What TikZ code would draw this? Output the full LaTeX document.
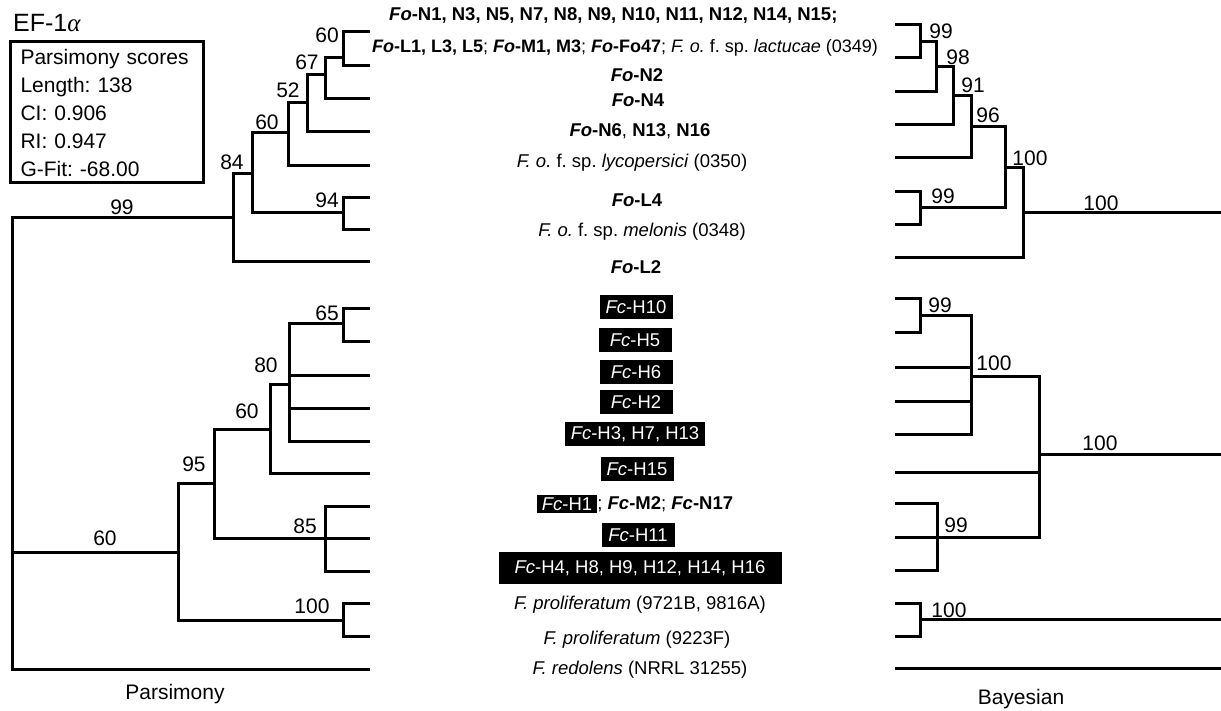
\documentclass[tikz,border=0pt]{standalone}
\usepackage{fontspec}
\setmainfont{Liberation Sans}
\newfontfamily\alphafont{Liberation Serif}
\usetikzlibrary{positioning}
\frenchspacing
\tikzset{
  branch/.style={line width=3pt, line cap=rect},
  boot/.style={font=\fontsize{21}{21}\selectfont, inner sep=0pt},
  taxon/.style={font=\fontsize{18.5}{18.5}\selectfont, inner sep=0pt},
  hapbox/.style={fill=black, text=white, font=\fontsize{18.5}{18.5}\selectfont,
    inner sep=0pt, minimum width=73pt, minimum height=24pt},
}
\newcommand{\Fo}{\textit{Fo}}
\newcommand{\Fc}{\textit{Fc}}
\begin{document}
\begin{tikzpicture}[x=1pt,y=-1pt]
\useasboundingbox (0,0) rectangle (1221,711);

% parsimony tree
\foreach \n/\y in {1/32,2/66,3/99,4/132,5/166,6/198,7/230,8/262}
  \coordinate (pt\n) at (368,\y);
\foreach \n/\y in {1/309,2/342,3/375,4/408,5/441,6/473,7/506,8/538,9/571,10/603,11/636,12/669}
  \coordinate (pb\n) at (368,\y);
\coordinate (pR) at (12,218);
\coordinate (p99) at (233,218);
\coordinate (p84) at (252,174);
\coordinate (p60b) at (288,133);
\coordinate (p52) at (307,103);
\coordinate (p67) at (325,75);
\coordinate (p60a) at (343,58);
\coordinate (p94) at (343,213);
\coordinate (p60d) at (178,552);
\coordinate (p95) at (214,483);
\coordinate (p60c) at (270,429);
\coordinate (p80) at (289,384);
\coordinate (p65) at (343,324);
\coordinate (p85) at (325,538);
\coordinate (p100) at (343,620);

\draw[branch] (pR) |- (p99) (pR) |- (p60d) (pR) |- (pb12);
\draw[branch] (p99) |- (p84) (p99) |- (pt8);
\draw[branch] (p84) |- (p60b) (p84) |- (p94);
\draw[branch] (p60b) |- (p52) (p60b) |- (pt5);
\draw[branch] (p52) |- (p67) (p52) |- (pt4);
\draw[branch] (p67) |- (p60a) (p67) |- (pt3);
\draw[branch] (p60a) |- (pt1) (p60a) |- (pt2);
\draw[branch] (p94) |- (pt6) (p94) |- (pt7);
\draw[branch] (p60d) |- (p95) (p60d) |- (p100);
\draw[branch] (p95) |- (p60c) (p95) |- (p85);
\draw[branch] (p60c) |- (p80) (p60c) |- (pb6);
\draw[branch] (p80) |- (p65) (p80) |- (pb3) (p80) |- (pb4) (p80) |- (pb5);
\draw[branch] (p65) |- (pb1) (p65) |- (pb2);
\draw[branch] (p85) |- (pb7) (p85) |- (pb8) (p85) |- (pb9);
\draw[branch] (p100) |- (pb10) (p100) |- (pb11);

\node[boot] (lp60a) at (327,35) {60};
\node[boot] (lp67) at (307,62) {67};
\node[boot] (lp52) at (288,90) {52};
\node[boot] (lp60b) at (267,122) {60};
\node[boot] (lp84) at (232,162) {84};
\node[boot] (lp94) at (327,200) {94};
\node[boot] (lp99) at (122,207) {99};
\node[boot] (lp65) at (327,313) {65};
\node[boot] (lp80) at (266,365) {80};
\node[boot] (lp60c) at (247,411) {60};
\node[boot] (lp95) at (194,464) {95};
\node[boot] (lp85) at (305,526) {85};
\node[boot] (lp100) at (312,606) {100};
\node[boot] (lp60d) at (105,538) {60};

% bayesian tree
\foreach \n/\y in {1/25,2/58,3/92,4/125,5/158,6/192,7/225,8/258}
  \coordinate (bt\n) at (896,\y);
\foreach \n/\y in {1/299,2/333,3/367,4/401,5/434,6/472,7/503,8/537,9/570,10/603,11/636,12/668}
  \coordinate (bb\n) at (896,\y);
\coordinate (b99a) at (920,42);
\coordinate (b98) at (936,67);
\coordinate (b91) at (953,96);
\coordinate (b96) at (971,127);
\coordinate (b99b) at (920,208);
\coordinate (b100a) at (1005,168);
\coordinate (b100b) at (1023,213);
\coordinate (b99c) at (920,316);
\coordinate (b100c) at (971,376);
\coordinate (b99d) at (937,537);
\coordinate (b100d) at (1039,454);
\coordinate (b100e) at (920,619);
\coordinate (bE1) at (1221,213);
\coordinate (bE2) at (1221,454);
\coordinate (bE3) at (1221,619);
\coordinate (bE4) at (1221,668);

\draw[branch] (b100b) -- (bE1) (b100b) |- (b100a) (b100b) |- (bt8);
\draw[branch] (b100a) |- (b96) (b100a) |- (b99b);
\draw[branch] (b96) |- (b91) (b96) |- (bt5);
\draw[branch] (b91) |- (b98) (b91) |- (bt4);
\draw[branch] (b98) |- (b99a) (b98) |- (bt3);
\draw[branch] (b99a) |- (bt1) (b99a) |- (bt2);
\draw[branch] (b99b) |- (bt6) (b99b) |- (bt7);
\draw[branch] (b100d) -- (bE2) (b100d) |- (b100c) (b100d) |- (bb6) (b100d) |- (b99d);
\draw[branch] (b100c) |- (b99c) (b100c) |- (bb3) (b100c) |- (bb4) (b100c) |- (bb5);
\draw[branch] (b99c) |- (bb1) (b99c) |- (bb2);
\draw[branch] (b99d) |- (bb7) (b99d) |- (bb8) (b99d) |- (bb9);
\draw[branch] (bE3) -- (b100e) (b100e) |- (bb10) (b100e) |- (bb11);
\draw[branch] (bE4) -- (bb12);

\node[boot] (lb99a) at (941,31) {99};
\node[boot] (lb98) at (958,57) {98};
\node[boot] (lb91) at (973,85) {91};
\node[boot] (lb96) at (988,115) {96};
\node[boot] (lb100a) at (1030,158) {100};
\node[boot] (lb99b) at (943,196) {99};
\node[boot] (lb100b) at (1101,203) {100};
\node[boot] (lb99c) at (940,305) {99};
\node[boot] (lb100c) at (994,363) {100};
\node[boot] (lb100d) at (1100,443) {100};
\node[boot] (lb99d) at (956,525) {99};
\node[boot] (lb100e) at (949,610) {100};

% taxa
\node[taxon, anchor=west] (fon1) at (389,15)
  {\textbf{\Fo-N1, N3, N5, N7, N8, N9, N10, N11, N12, N14, N15;}};
\node[taxon, anchor=west, font=\fontsize{18}{18}\selectfont] (fol1) at (372,48)
  {\textbf{\Fo-L1, L3, L5}; \textbf{\Fo-M1, M3}; \textbf{\Fo-Fo47}; \textit{F. o.} f. sp. \textit{lactucae} (0349)};
\node[taxon] (fon2) at (637,75) {\textbf{\Fo-N2}};
\node[taxon] (fon4) at (638,100) {\textbf{\Fo-N4}};
\node[taxon] (fon6) at (640,131) {\textbf{\Fo-N6}, \textbf{N13}, \textbf{N16}};
\node[taxon] (lyco) at (632,163) {\textit{F. o.} f. sp. \textit{lycopersici} (0350)};
\node[taxon] (fol4) at (637,200) {\textbf{\Fo-L4}};
\node[taxon] (melo) at (642,232) {\textit{F. o.} f. sp. \textit{melonis} (0348)};
\node[taxon] (fol2) at (636,267) {\textbf{\Fo-L2}};
\node[hapbox] (h10) at (636,307) {\Fc-H10};
\node[hapbox] (h5) at (635,340) {\Fc-H5};
\node[hapbox] (h6) at (636,372) {\Fc-H6};
\node[hapbox] (h2) at (636,402) {\Fc-H2};
\node[hapbox, minimum width=140pt] (h3) at (635,434) {\Fc-H3, H7, H13};
\node[hapbox] (h15) at (637,469) {\Fc-H15};
\node[hapbox, minimum width=60pt, minimum height=18pt] (h1) at (567,504) {\Fc-H1};
\node[taxon, right=0pt of h1] (fcm2) {; \textbf{\Fc-M2}; \textbf{\Fc-N17}};
\node[hapbox] (h11) at (638,535) {\Fc-H11};
\node[hapbox, minimum width=283pt, minimum height=32pt] (h4) at (640,568)
  {\Fc-H4, H8, H9, H12, H14, H16};
\node[taxon] (pro1) at (640,605) {\textit{F. proliferatum} (9721B, 9816A)};
\node[taxon] (pro2) at (637,640) {\textit{F. proliferatum} (9223F)};
\node[taxon] (redo) at (640,670) {\textit{F. redolens} (NRRL 31255)};

% titles and scores
\node[anchor=west, inner sep=0pt, font=\fontsize{25}{25}\selectfont] (gene) at (13,23)
  {EF-1{\alphafont\itshape α}};
\node[draw, line width=3pt, align=left, inner sep=0pt, text width=172pt,
  minimum width=193pt, minimum height=141pt, font=\fontsize{21}{28}\selectfont]
  (scores) at (106.5,112.5)
  {Parsimony scores\\Length: 138\\CI: 0.906\\RI: 0.947\\G-Fit: -68.00};
\node[boot] (pars) at (175,694) {Parsimony};
\node[boot] (bayes) at (1021,699) {Bayesian};
\end{tikzpicture}
\end{document}
